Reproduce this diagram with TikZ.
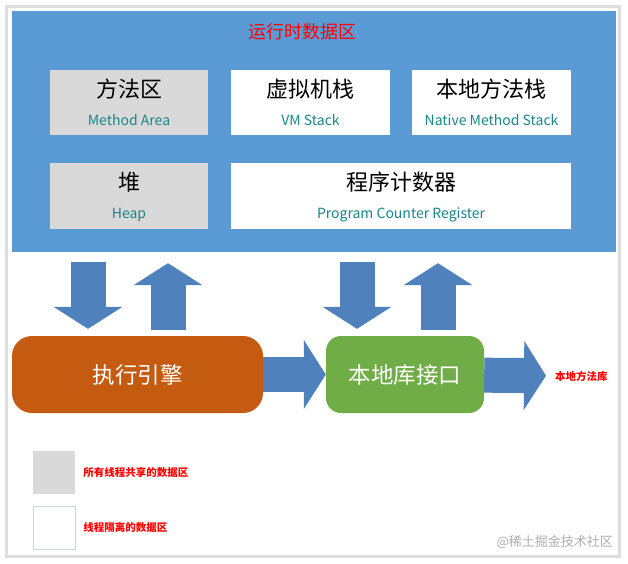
\documentclass[tikz,border=0pt]{standalone}
\usepackage{fontspec}
\setmainfont{Noto Sans CJK SC}
\usetikzlibrary{arrows.meta,positioning}
\definecolor{areablue}{RGB}{91,155,213}
\definecolor{arrowblue}{RGB}{79,129,189}
\definecolor{boxgray}{RGB}{217,217,217}
\definecolor{engineorange}{RGB}{197,90,17}
\definecolor{jnigreen}{RGB}{112,173,71}
\definecolor{enteal}{RGB}{24,134,138}
\definecolor{framegray}{RGB}{222,222,222}
\definecolor{keygray}{RGB}{205,212,216}
\definecolor{markgray}{RGB}{175,175,175}
\tikzstyle{frame}=[rectangle,draw=framegray,line width=3pt,fill=white,inner sep=0pt,minimum width=612.5pt,minimum height=550pt]
\tikzstyle{area}=[rectangle,fill=areablue,inner sep=0pt,minimum width=604pt,minimum height=241pt]
\tikzstyle{areatitle}=[text=red,font=\fontsize{18}{20}\selectfont,inner sep=0pt]
\tikzstyle{region}=[rectangle,inner sep=0pt,minimum height=65.5pt]
\tikzstyle{cntext}=[font=\fontsize{22}{24}\selectfont,inner sep=0pt]
\tikzstyle{entext}=[text=enteal,font=\fontsize{14}{16}\selectfont,inner sep=0pt,text depth=0pt]
\tikzstyle{block}=[rectangle,text=white,font=\fontsize{22.5}{24}\selectfont,minimum height=77pt,inner sep=0pt]
\tikzstyle{fatarrow}=[draw=arrowblue,line width=35pt,-{Triangle[length=22pt,width=69pt,line width=0pt]}]
\tikzstyle{libtext}=[text=red,font=\fontsize{10.5}{12}\selectfont\bfseries,inner sep=0pt]
\tikzstyle{legendkey}=[rectangle,inner sep=0pt,minimum width=42pt,minimum height=43pt]
\tikzstyle{legendtext}=[text=red,font=\fontsize{10.5}{12}\selectfont\bfseries,inner sep=0pt]
\tikzstyle{watermark}=[text=markgray,font=\fontsize{13}{15}\selectfont,inner sep=0pt]

\begin{document}
\begin{tikzpicture}[x=1pt,y=-1pt]
\useasboundingbox (0,0) rectangle (628,563);

% the frame and the runtime data area
\node[frame] (page) at (312.75,281.5) {};
\node[area] (rtda) at (314,131.5) {};
\node[areatitle] (rtdatitle) at (302,32) {运行时数据区};

% First we draw the memory regions
\foreach \pos/\name/\boxw/\col/\cn/\en in {{(129,102.5)/method/158/boxgray/方法区/Method Area}, {(310.5,102.5)/vmstack/159/white/虚拟机栈/VM Stack}, {(491.5,102.5)/nstack/159/white/本地方法栈/Native Method Stack}, {(129,196)/heap/158/boxgray/堆/Heap}, {(401,196)/pc/340/white/程序计数器/Program Counter Register}}
{
\node[region,fill=\col,minimum width=\boxw pt] (\name) at \pos {};
\node[cntext] at ([yshift=13.5pt]\name.center) {\cn};
\node[entext] at ([yshift=-17pt]\name.center) {\en};
}

% Then the engine and the native interface
\node[block,fill=engineorange,rounded corners=20pt,minimum width=251pt] (engine) at (137.5,374.5) {执行引擎};
\node[block,fill=jnigreen,rounded corners=15pt,minimum width=158pt] (jni) at (405,374.5) {本地库接口};
\node[libtext,anchor=west] (nlib) at (555,376) {本地方法库};

% Connect them with fat arrows
\path[fatarrow] (engine) -- (jni);
\path[fatarrow,shorten >=9pt] (jni) -- (nlib);
\foreach \src/\dx in {engine/-49.5, jni/-48}
\path[fatarrow,shorten <=10pt,shorten >=7pt] ([xshift=\dx pt]\src.north |- rtda.south) -- ([xshift=\dx pt]\src.north);
\foreach \src/\dx in {engine/30.5, jni/33}
\path[fatarrow,shorten <=6pt,shorten >=11pt] ([xshift=\dx pt]\src.north) -- ([xshift=\dx pt]\src.north |- rtda.south);

% legend
\node[legendkey,fill=boxgray] (sharedkey) at (54,472.5) {};
\node[legendtext,right=8pt of sharedkey] (sharedtext) {所有线程共享的数据区};
\node[legendkey,fill=white,draw=keygray] (privatekey) at (54,527.5) {};
\node[legendtext,right=8pt of privatekey] (privatetext) {线程隔离的数据区};

\node[watermark,anchor=east] (juejin) at (613,542) {@稀土掘金技术社区};

\end{tikzpicture}
\end{document}
